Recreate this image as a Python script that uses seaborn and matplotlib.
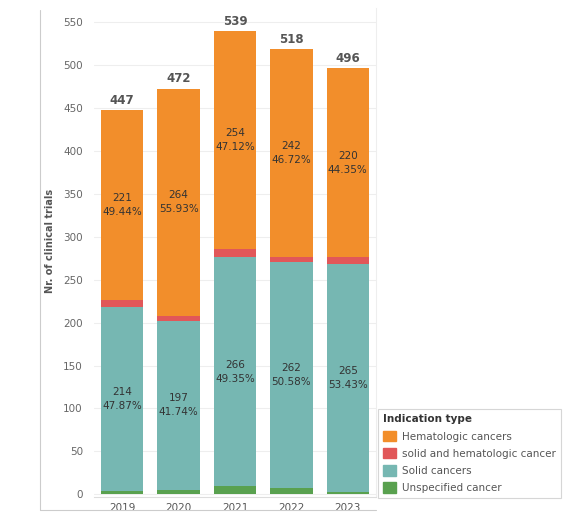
import matplotlib
matplotlib.use("Agg")
import matplotlib.pyplot as plt
import matplotlib.patches as mpatches
from matplotlib.lines import Line2D
import numpy as np
import pandas as pd
import seaborn as sns

# data
years = ["2019", "2020", "2021", "2022", "2023"]
unspecified = [4, 5, 10, 8, 3]
solid = [214, 197, 266, 262, 265]
mixed = [8, 6, 9, 6, 8]
hemato = [221, 264, 254, 242, 220]

series = ["Hematologic cancers", "solid and hematologic cancer", "Solid cancers", "Unspecified cancer"]
colors = {"Hematologic cancers": "#F28E2B", "solid and hematologic cancer": "#E15759",
          "Solid cancers": "#76B7B2", "Unspecified cancer": "#59A14F"}

df = pd.DataFrame({"Year": years, "Unspecified cancer": unspecified, "Solid cancers": solid,
                   "solid and hematologic cancer": mixed, "Hematologic cancers": hemato})
df["Total"] = df[series].sum(axis=1)

sns.set_style("white")
fig = plt.figure(figsize=(5.67, 5.27), dpi=100)
ax = fig.add_axes([94 / 567, 1 - 497 / 527, 282 / 567, 489 / 527])

# stack from the bottom up
order = ["Unspecified cancer", "Solid cancers", "solid and hematologic cancer", "Hematologic cancers"]
bottom = np.zeros(len(years))
for name in order:
    sns.barplot(data=df, x="Year", y=name, color=colors[name], bottom=bottom,
                width=0.75, saturation=1, ax=ax, linewidth=0)
    if name in ("Solid cancers", "Hematologic cancers"):
        for i, v in enumerate(df[name]):
            pct = v / df["Total"][i] * 100
            ax.text(i, bottom[i] + v / 2, f"{v}\n{pct:.2f}%", ha="center", va="center",
                    fontsize=7.5, color="#333333", linespacing=1.5)
    bottom = bottom + df[name].values

for i, t in enumerate(df["Total"]):
    ax.text(i, t + 4, str(t), ha="center", va="bottom", fontsize=8.5,
            fontweight="bold", color="#555555")

ax.set_xlim(-0.5, 4.5)
ax.set_ylim(-3, 566)
ax.set_yticks(range(0, 551, 50))
ax.yaxis.grid(True, color="#eeeeee", linewidth=0.8)
ax.set_axisbelow(True)
ax.tick_params(axis="y", labelsize=7.5, labelcolor="#666666", length=0, pad=8)
ax.tick_params(axis="x", labelsize=7.5, labelcolor="#555555", length=0, pad=4)
ax.set_xlabel("")
ax.set_ylabel("Nr. of clinical trials", fontsize=7, fontweight="bold", color="#555555")
ax.yaxis.set_label_coords(-0.138, 0.523)
for s in ["top", "left"]:
    ax.spines[s].set_visible(False)
ax.spines["right"].set_color("#eeeeee")
ax.spines["bottom"].set_color("#dddddd")

# outer panel borders
fig.add_artist(Line2D([40 / 567, 40 / 567], [1 - 10 / 527, 1 - 510 / 527], color="#cccccc", lw=0.8))
fig.add_artist(Line2D([40 / 567, 376 / 567], [1 - 510 / 527, 1 - 510 / 527], color="#cccccc", lw=0.8))

handles = [mpatches.Patch(color=colors[n], label=n) for n in series]
leg = fig.legend(handles=handles, title="Indication type", loc="upper left",
                 bbox_to_anchor=(373 / 567, 1 - 404 / 527), fontsize=7.5, title_fontsize=7.5,
                 frameon=True, fancybox=False, edgecolor="#cccccc", handlelength=1.2,
                 handleheight=1.2, handletextpad=0.6, labelspacing=0.6, borderpad=0.5,
                 alignment="left", labelcolor="#555555")
leg.get_title().set_fontweight("bold")
leg.get_title().set_color("#333333")
leg.get_frame().set_linewidth(0.8)

fig.savefig("out.png", dpi=100)
